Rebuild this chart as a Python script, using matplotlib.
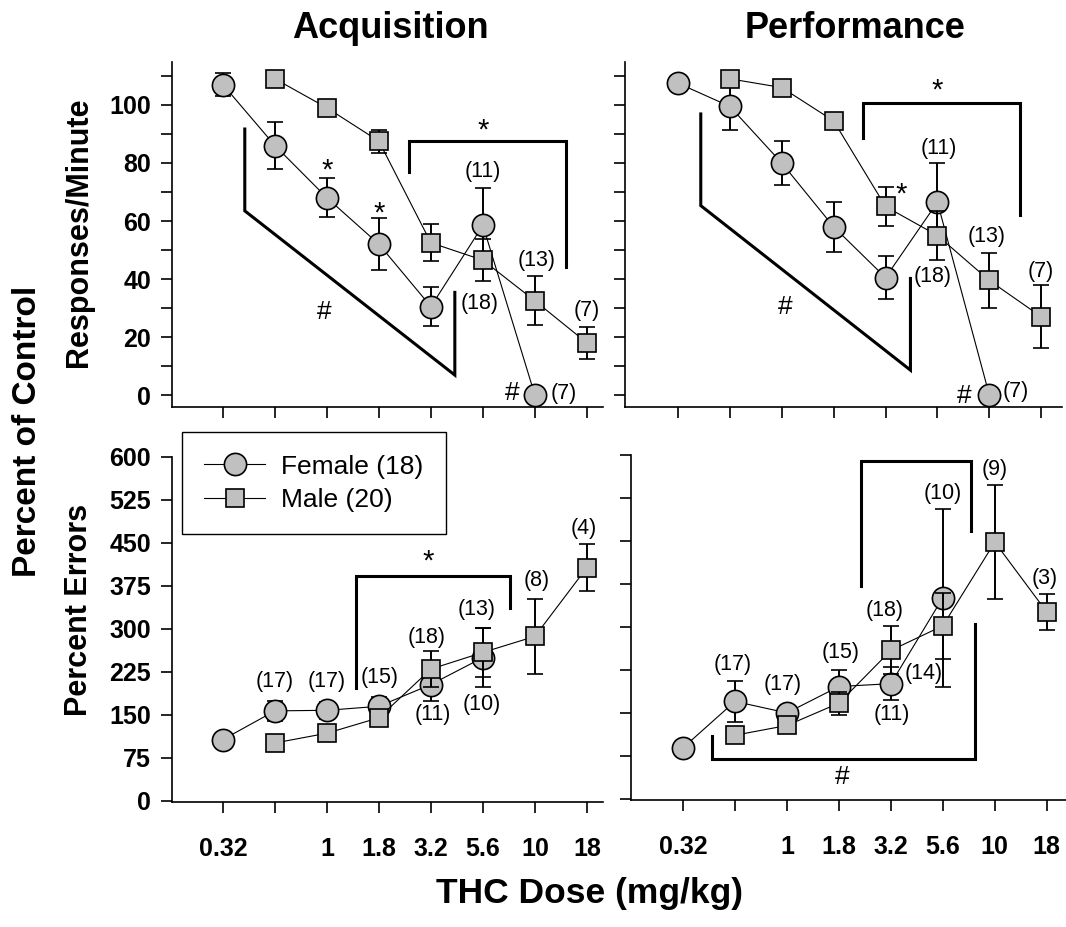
import matplotlib
matplotlib.use("Agg")
import matplotlib.pyplot as plt
from matplotlib import font_manager
from matplotlib.lines import Line2D
import numpy as np

# dose labels (equally spaced positions on the x axis)
doses = ["0.32", "0.56", "1", "1.8", "3.2", "5.6", "10", "18"]
dose_labels = ["0.32", "", "1", "1.8", "3.2", "5.6", "10", "18"]

# Acquisition - responses/minute
acq_rate_f = [107, 86, 68, 52, 30.5, 58.5, 0]
acq_rate_f_err = [4, 8, 6.7, 9, 6.6, 13, 0]
acq_rate_m = [109, 99, 87.5, 52.5, 46.5, 32.5, 18]
acq_rate_m_err = [0, 0, 4, 6.3, 7.3, 8.5, 5.6]

# Performance - responses/minute
perf_rate_f = [107.5, 99.5, 80, 58, 40.5, 66.5, 0]
perf_rate_f_err = [2, 8, 7.7, 8.6, 7.4, 13.4, 0]
perf_rate_m = [109, 106, 94.5, 65, 55, 39.5, 27]
perf_rate_m_err = [0, 0, 0, 6.6, 8.4, 9.5, 10.8]

# Acquisition - percent errors
acq_err_f = [107, 157, 158, 165, 203, 250]
acq_err_f_err = [0, 17, 15, 17, 28, 52]
acq_err_m = [101, 118, 145, 230, 259, 287, 407]
acq_err_m_err = [0, 0, 7, 31, 43, 65, 41]

# Performance - percent errors
perf_err_f = [89, 170, 150, 196, 201, 351]
perf_err_f_err = [0, 36, 0, 28, 29, 155]
perf_err_m = [111, 128, 167, 259, 302, 448, 326]
perf_err_m_err = [0, 0, 20, 42, 58, 99, 32]

W, H = 1066, 927
fig = plt.figure(figsize=(W / 100, H / 100), dpi=100)

names = {f.name for f in font_manager.fontManager.ttflist}
FONT = "Liberation Sans" if "Liberation Sans" in names else "DejaVu Sans"
NARROW = "Liberation Sans Narrow" if "Liberation Sans Narrow" in names else FONT
plt.rcParams["font.family"] = FONT


def axes_px(x0, x1, top, bottom):
    return fig.add_axes([x0 / W, 1 - bottom / H, (x1 - x0) / W, (bottom - top) / H])


ax_tl = axes_px(172, 603, 62, 407)
ax_tr = axes_px(625, 1062, 62, 407)
ax_bl = axes_px(172, 603, 457, 802)
ax_br = axes_px(631, 1066, 455, 800)

gray = "#c0c0c0"
f_style = dict(color="black", lw=0.8, marker="o", ms=16, mfc=gray, mec="black", mew=1.2)
m_style = dict(color="black", lw=0.8, marker="s", ms=13, mfc=gray, mec="black", mew=1.2)


def draw_series(ax, yf, ef, ym, em):
    xf = np.arange(len(yf))
    xm = np.arange(1, 1 + len(ym))
    ax.errorbar(xf, yf, yerr=ef, elinewidth=1.4, capsize=6, capthick=1.4,
                zorder=3, **f_style)
    ax.errorbar(xm, ym, yerr=em, elinewidth=1.4, capsize=6, capthick=1.4,
                zorder=5, **m_style)


draw_series(ax_tl, acq_rate_f, acq_rate_f_err, acq_rate_m, acq_rate_m_err)
draw_series(ax_tr, perf_rate_f, perf_rate_f_err, perf_rate_m, perf_rate_m_err)
draw_series(ax_bl, acq_err_f, acq_err_f_err, acq_err_m, acq_err_m_err)
draw_series(ax_br, perf_err_f, perf_err_f_err, perf_err_m, perf_err_m_err)

# axes styling
for ax, xl in [(ax_tl, (-0.98, 7.31)), (ax_tr, (-1.02, 7.4)),
               (ax_bl, (-0.98, 7.31)), (ax_br, (-1.0, 7.37))]:
    ax.set_xlim(*xl)
    ax.set_xticks(range(len(doses)))
    for s in ["top", "right"]:
        ax.spines[s].set_visible(False)
    for s in ["left", "bottom"]:
        ax.spines[s].set_linewidth(1.2)
    ax.tick_params(direction="out", length=8, width=1.2, pad=17)
    ax.tick_params(axis="y", pad=7)
    ax.patch.set_alpha(0)

for ax in (ax_tl, ax_tr):
    ax.set_ylim(-4.1, 114.8)
    ax.set_yticks(range(0, 111, 10))
    ax.set_xticklabels([])
for ax in (ax_bl, ax_br):
    ax.set_ylim(-2, 600)
    ax.set_yticks(range(0, 601, 75))
    ax.set_xticklabels(dose_labels, fontweight="bold", fontsize=18, family=NARROW)

ax_tl.set_yticklabels([str(v) if v % 20 == 0 else "" for v in range(0, 111, 10)],
                      fontweight="bold", fontsize=18, family=NARROW)
ax_bl.set_yticklabels([str(v) for v in range(0, 601, 75)],
                      fontweight="bold", fontsize=18, family=NARROW)
ax_tr.set_yticklabels([])
ax_br.set_yticklabels([])


def label(ax, s, x, y, fs=15.5):
    ax.text(x, y, s, ha="center", va="center", fontsize=fs, zorder=6)


def star(ax, x, y, fs=21):
    ax.annotate("*", (x, y), xytext=(0, -0.55 * fs), textcoords="offset points",
                ha="center", va="baseline", fontsize=fs, zorder=6)


def bracket(ax, xs, ys):
    ax.plot(xs, ys, color="black", lw=2.2, clip_on=False, zorder=1,
            solid_joinstyle="miter")


# top left annotations
star(ax_tl, 2, 80)
star(ax_tl, 3, 65.5)
star(ax_tl, 5.0, 94)
label(ax_tl, "#", 1.94, 28.6, fs=19)
label(ax_tl, "#", 5.56, 0.6, fs=19)
for s, x, y in [("(11)", 5.0, 77), ("(18)", 4.94, 31.7), ("(13)", 6.04, 46.5),
                ("(7)", 7.0, 29), ("(7)", 6.56, 0.6)]:
    label(ax_tl, s, x, y)
bracket(ax_tl, [3.58, 3.58, 6.6, 6.6], [77, 87.6, 87.6, 44])
bracket(ax_tl, [0.42, 0.42, 4.46, 4.46], [91.7, 63.5, 6.9, 35.4])

# top right annotations
star(ax_tr, 5.0, 107.6)
star(ax_tr, 4.31, 71.8)
label(ax_tr, "#", 2.06, 30.4, fs=19)
label(ax_tr, "#", 5.52, -0.3, fs=19)
for s, x, y in [("(11)", 5.02, 85), ("(18)", 4.9, 40.8), ("(13)", 5.94, 54.6),
                ("(7)", 7.0, 42.5), ("(7)", 6.5, 1.1)]:
    label(ax_tr, s, x, y)
bracket(ax_tr, [3.56, 3.56, 6.6, 6.6], [88.5, 100.6, 100.6, 62])
bracket(ax_tr, [0.44, 0.44, 4.48, 4.48], [96.9, 65.3, 8.6, 40.2])

# bottom left annotations
for s, x, y in [("(17)", 1, 208), ("(17)", 2, 208), ("(15)", 3.02, 215.7),
                ("(18)", 3.92, 285.5), ("(13)", 4.88, 334), ("(8)", 6.04, 385),
                ("(4)", 6.94, 475.6), ("(11)", 4.04, 150), ("(10)", 4.98, 168.6)]:
    label(ax_bl, s, x, y)
star(ax_bl, 3.94, 432)
bracket(ax_bl, [2.55, 2.55, 5.52, 5.52], [196.5, 392.4, 392.4, 336])

# bottom right annotations
for s, x, y in [("(17)", 0.96, 234), ("(17)", 1.92, 199), ("(15)", 3.03, 254.6),
                ("(18)", 3.88, 329), ("(11)", 4.01, 147), ("(14)", 4.63, 218),
                ("(10)", 5.0, 532), ("(9)", 6.0, 574), ("(3)", 6.96, 384)]:
    label(ax_br, s, x, y)
star(ax_br, 4.49, 625)
label(ax_br, "#", 3.06, 37.8, fs=19)
bracket(ax_br, [3.42, 3.42, 5.55, 5.55], [370.6, 589, 589, 466.8])
bracket(ax_br, [0.55, 0.55, 5.62, 5.62], [109.3, 70.3, 70.3, 305])

# legend (no error bars in the keys)
handles = [Line2D([], [], **f_style), Line2D([], [], **m_style)]
leg = ax_bl.legend(handles, ["Female (18)", "Male (20)"], loc="upper left",
                   bbox_to_anchor=(0.023, 1.072), borderaxespad=0,
                   fontsize=19, frameon=True, fancybox=False, framealpha=1,
                   edgecolor="black", handlelength=2.3, handletextpad=0.6,
                   borderpad=0.85, labelspacing=0.35)
leg.get_frame().set_linewidth(1.0)

# titles and labels
fig.text(390 / W, 1 - 28 / H, "Acquisition", ha="center", va="center",
         fontsize=26, fontweight="bold")
fig.text(855 / W, 1 - 28 / H, "Performance", ha="center", va="center",
         fontsize=26, fontweight="bold")
fig.text(28 / W, 1 - 431 / H, "Percent of Control", rotation=90, ha="center",
         va="center", fontsize=24, fontweight="bold")
fig.text(79 / W, 1 - 232 / H, "Responses/Minute", rotation=90, ha="center",
         va="center", fontsize=22, fontweight="bold")
fig.text(79 / W, 1 - 610 / H, "Percent Errors", rotation=90, ha="center",
         va="center", fontsize=22, fontweight="bold")
fig.text(590 / W, 1 - 893 / H, "THC Dose (mg/kg)", ha="center", va="center",
         fontsize=25.5, fontweight="bold")

fig.savefig("out.png", dpi=100)
